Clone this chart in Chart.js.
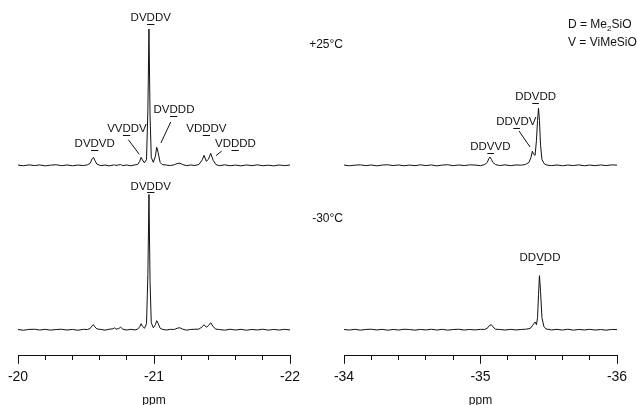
<!DOCTYPE html>
<html>
<head>
<meta charset="utf-8">
<title>29Si NMR spectra</title>
<script src="https://cdn.jsdelivr.net/npm/chart.js@4/dist/chart.umd.min.js"></script>
<style>
  html, body { margin: 0; padding: 0; background: #fff; overflow: hidden; width: 637px; height: 405px; }
  #wrap { position: relative; width: 637px; height: 405px; overflow: hidden; }
  .panel { position: absolute; top: 0; height: 408px; }
  .note { position: absolute; font: 12px "Liberation Sans", Arial, sans-serif; color: #111; white-space: nowrap; line-height: 14px; }
  .sub { font-size: 8px; position: relative; top: 3px; }
</style>
</head>
<body>
<div id="wrap">
  <div class="panel" style="left:0;width:318px"><canvas id="dRegion" width="318" height="408"></canvas></div>
  <div class="panel" style="left:318px;width:319px"><canvas id="vRegion" width="319" height="408"></canvas></div>
  <div class="note" style="right:294px;top:37px">+25°C</div>
  <div class="note" style="right:294px;top:211px">-30°C</div>
  <div class="note" style="left:568px;top:17px">D = Me<span class="sub">2</span>SiO</div>
  <div class="note" style="left:568px;top:35px">V = ViMeSiO</div>
</div>
<script>
// ---- D region (-20 … -22 ppm) ----
const dPpm = [
  -20.00, -20.04, -20.08, -20.12, -20.16, -20.20, -20.24, -20.28, -20.32, -20.36,
  -20.40, -20.44, -20.48, -20.51, -20.53, -20.545, -20.555, -20.565, -20.58, -20.61,
  -20.64, -20.67, -20.70, -20.71, -20.72, -20.74, -20.755, -20.77, -20.80, -20.83,
  -20.86, -20.88, -20.895, -20.905, -20.915, -20.93, -20.945, -20.955, -20.963, -20.971,
  -20.98, -20.995, -21.01, -21.02, -21.03, -21.045, -21.06, -21.09, -21.12, -21.15,
  -21.17, -21.19, -21.21, -21.24, -21.27, -21.30, -21.33, -21.355, -21.368, -21.385,
  -21.40, -21.417, -21.435, -21.455, -21.48, -21.52, -21.56, -21.60, -21.64, -21.68,
  -21.72, -21.76, -21.80, -21.84, -21.88, -21.92, -21.96, -22.00
];
// intensity at +25 °C
const dWarm = [
  0.3, -0.4, 0.5, -0.2, 0.4, -0.5, 0.2, 0.6, -0.3, 0.4,
  -0.4, 0.3, -0.2, 0.5, 2.0, 6.5, 8.0, 5.0, 1.2, -0.3,
  0.4, -0.5, 0.3, 0.6, -0.2, 0.5, 0.8, -0.3, 0.4, -0.4,
  0.5, 0.9, 4.0, 8.0, 5.5, 2.5, 6.0, 55, 136, 50,
  8.0, 3.0, 9.0, 18, 13, 3.0, 0.8, 0.3, -0.2, 0.6,
  1.8, 2.2, 0.8, -0.3, 0.4, -0.2, 0.9, 5.5, 10, 4.0,
  6.0, 12, 5.0, 0.8, -0.3, 0.5, -0.4, 0.3, -0.5, 0.4,
  -0.3, 0.5, -0.4, 0.2, -0.5, 0.4, -0.3, 0.3
];
// intensity at -30 °C
const dCold = [
  0.2, -0.5, 0.3, 0.5, -0.3, 0.4, -0.4, 0.2, 0.5, -0.3,
  0.3, -0.5, 0.4, 0.2, 1.2, 4.0, 5.0, 3.0, 0.8, 0.3,
  -0.4, 0.5, 1.0, 2.0, 0.5, 1.2, 2.5, 0.6, -0.3, 0.4,
  -0.2, 0.6, 3.0, 6.0, 3.5, 1.5, 6.0, 55, 135, 48,
  7.0, 2.0, 5.0, 9.0, 6.5, 1.5, 0.5, -0.3, 0.4, 0.3,
  1.5, 2.0, 0.6, -0.4, 0.3, 0.5, 0.6, 3.0, 5.0, 2.5,
  4.0, 7.0, 3.0, 0.6, 0.2, -0.4, 0.5, -0.3, 0.4, -0.5,
  0.3, -0.2, 0.5, -0.4, 0.3, -0.3, 0.4, -0.2
];

// ---- V region (-34 … -36 ppm) ----
const vPpm = [
  -34.00, -34.04, -34.08, -34.12, -34.16, -34.20, -34.24, -34.28, -34.32, -34.36,
  -34.40, -34.44, -34.48, -34.52, -34.56, -34.60, -34.64, -34.68, -34.72, -34.76,
  -34.80, -34.84, -34.88, -34.92, -34.96, -35.00, -35.03, -35.05, -35.06, -35.07,
  -35.08, -35.09, -35.11, -35.14, -35.18, -35.22, -35.26, -35.30, -35.33, -35.355,
  -35.37, -35.38, -35.39, -35.40, -35.41, -35.418, -35.425, -35.432, -35.44, -35.45,
  -35.465, -35.48, -35.52, -35.56, -35.60, -35.64, -35.68, -35.72, -35.76, -35.80,
  -35.84, -35.88, -35.92, -35.96, -36.00
];
const vWarm = [
  0.3, -0.4, 0.2, 0.5, -0.3, 0.4, -0.5, 0.3, 0.6, -0.2,
  0.4, -0.4, 0.3, -0.3, 0.5, -0.2, 0.4, -0.5, 0.3, 0.6,
  -0.3, 0.4, -0.2, 0.5, 0.3, -0.3, 0.8, 3.0, 6.5, 8.3,
  6.0, 3.0, 0.8, -0.2, 0.5, -0.3, 0.4, 0.2, 0.9, 3.0,
  8.0, 14, 11, 10, 25, 45, 57, 45, 20, 6.0,
  2.0, 0.5, -0.3, 0.4, -0.4, 0.3, -0.2, 0.5, -0.4, 0.3,
  -0.3, 0.4, -0.2, 0.5, 0.2
];
const vCold = [
  0.2, -0.3, 0.4, -0.4, 0.3, 0.5, -0.2, 0.4, -0.5, 0.3,
  -0.3, 0.5, 0.2, -0.4, 0.3, -0.2, 0.5, -0.3, 0.4, -0.4,
  0.2, 0.5, -0.3, 0.3, -0.2, 0.4, 0.3, 1.5, 3.5, 4.5,
  5.0, 3.0, 0.5, 0.3, -0.3, 0.4, -0.2, 0.3, 0.5, 1.0,
  2.0, 4.0, 6.0, 7.7, 5.0, 12, 35, 54, 38, 12,
  3.0, 0.8, -0.2, 0.4, -0.3, 0.5, -0.4, 0.3, -0.2, 0.4,
  -0.3, 0.2, -0.4, 0.3, 0.1
];

// labelled tick values on each ppm axis
const dTickLabels = [-20, -21, -22];
const vTickLabels = [-34, -35, -36];

// vertical stacking of the two temperature traces (in y-axis units)
const WARM_BASE = 190;
const COLD_BASE = 26;
const Y_TOP = 345;

// peak assignments: text, index of the underlined unit, anchor (ppm, y)
const dAssign = [
  { text: 'DVDDV', mark: 2, ppm: -20.976, y: 337.5 },
  { text: 'DVDDD', mark: 2, ppm: -21.147, y: 245 },
  { text: 'VVDDV', mark: 2, ppm: -20.801, y: 226.7 },
  { text: 'DVDVD', mark: 2, ppm: -20.564, y: 211.7 },
  { text: 'VDDDV', mark: 2, ppm: -21.385, y: 226.7 },
  { text: 'VDDDD', mark: 2, ppm: -21.599, y: 211.7 },
  { text: 'DVDDV', mark: 2, ppm: -20.976, y: 169 }
];
const dLeaders = [
  [-20.811, 215.7, -20.892, 201],
  [-21.123, 233.3, -21.051, 212.3],
  [-21.498, 204.3, -21.456, 199.7]
];
const vAssign = [
  { text: 'DDVDD', mark: 2, ppm: -35.404, y: 258.3 },
  { text: 'DDVDV', mark: 2, ppm: -35.262, y: 233.3 },
  { text: 'DDVVD', mark: 2, ppm: -35.072, y: 208.3 },
  { text: 'DDVDD', mark: 2, ppm: -35.436, y: 97.7 }
];
const vLeaders = [
  [-35.282, 224.3, -35.363, 208.3]
];

const INK = '#111';
const FONT = '"Liberation Sans", Arial, Helvetica, sans-serif';

// draws the assignment labels (with the observed unit underlined) and leader lines
const assignmentPlugin = {
  id: 'assignments',
  afterDatasetsDraw(chart, args, opts) {
    const { ctx } = chart;
    const xs = chart.scales.x, ys = chart.scales.y;
    ctx.save();
    ctx.font = '11.5px ' + FONT;
    ctx.fillStyle = INK;
    ctx.strokeStyle = INK;
    ctx.lineWidth = 1;
    ctx.textBaseline = 'middle';
    ctx.textAlign = 'left';
    for (const a of opts.labels) {
      const cx = xs.getPixelForValue(a.ppm);
      const cy = ys.getPixelForValue(a.y);
      const w = ctx.measureText(a.text).width;
      const left = cx - w / 2;
      ctx.fillText(a.text, left, cy);
      const pre = ctx.measureText(a.text.slice(0, a.mark)).width;
      const cw = ctx.measureText(a.text[a.mark]).width;
      const uy = Math.round(cy + 6) + 0.5;
      ctx.beginPath();
      ctx.moveTo(left + pre + 0.5, uy);
      ctx.lineTo(left + pre + cw - 0.5, uy);
      ctx.stroke();
    }
    for (const l of opts.leaders) {
      ctx.beginPath();
      ctx.moveTo(xs.getPixelForValue(l[0]), ys.getPixelForValue(l[1]));
      ctx.lineTo(xs.getPixelForValue(l[2]), ys.getPixelForValue(l[3]));
      ctx.stroke();
    }
    ctx.restore();
  }
};

function trace(ppm, values, base) {
  return {
    data: ppm.map((p, i) => ({ x: p, y: values[i] + base })),
    borderColor: INK,
    borderWidth: 1,
    pointRadius: 0,
    tension: 0,
    fill: false
  };
}

function spectrumChart(id, ppm, warm, cold, lo, hi, labelled, assign, leaders, pad) {
  const isMajor = v => labelled.some(t => Math.abs(t - v) < 1e-6);
  return new Chart(document.getElementById(id), {
    type: 'line',
    data: { datasets: [trace(ppm, warm, WARM_BASE), trace(ppm, cold, COLD_BASE)] },
    options: {
      responsive: false,
      animation: false,
      devicePixelRatio: 1,
      layout: { padding: { left: pad[0], right: pad[1], top: 10, bottom: 0 } },
      plugins: {
        legend: { display: false },
        tooltip: { enabled: false },
        assignments: { labels: assign, leaders: leaders }
      },
      scales: {
        x: {
          type: 'linear',
          min: lo,
          max: hi,
          reverse: true,
          border: { display: true, color: INK, width: 1 },
          grid: {
            drawOnChartArea: false,
            drawTicks: true,
            tickLength: 8,
            tickColor: INK,
            tickWidth: 1,
            tickBorderDash: ctx => (ctx.tick && isMajor(ctx.tick.value)) ? [] : [4, 40]
          },
          ticks: {
            stepSize: 0.2,
            autoSkip: false,
            maxRotation: 0,
            padding: 5,
            color: INK,
            font: { family: FONT, size: 14 },
            callback: v => isMajor(v) ? String(Math.round(v)) : ''
          },
          title: {
            display: true,
            text: 'ppm',
            color: INK,
            font: { family: FONT, size: 12 },
            padding: { top: 3, bottom: 0 }
          }
        },
        y: { display: false, min: 0, max: Y_TOP }
      }
    },
    plugins: [assignmentPlugin]
  });
}

spectrumChart('dRegion', dPpm, dWarm, dCold, -22, -20, dTickLabels, dAssign, dLeaders, [18, 28]);
spectrumChart('vRegion', vPpm, vWarm, vCold, -36, -34, vTickLabels, vAssign, vLeaders, [26, 20]);
</script>
</body>
</html>
